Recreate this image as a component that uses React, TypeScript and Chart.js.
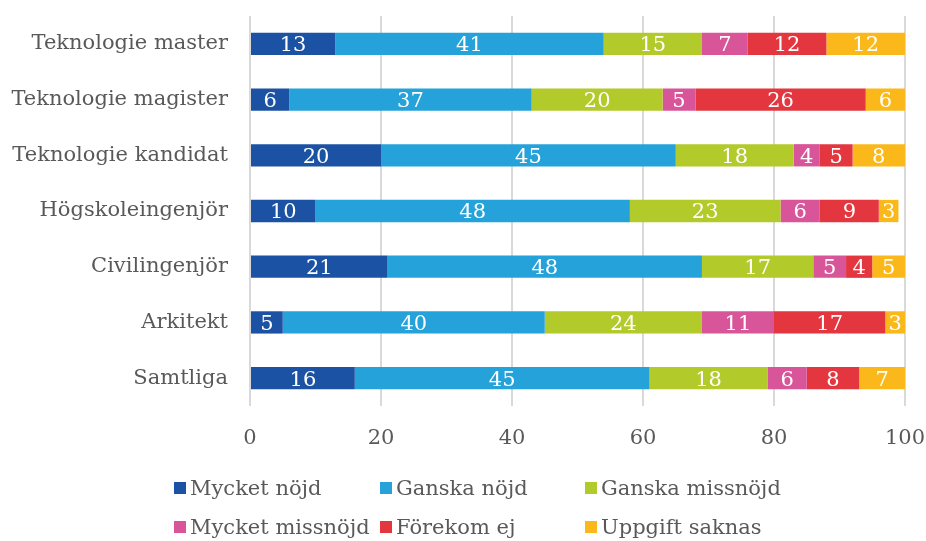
import React, { useEffect, useRef } from "react";
import { Chart, registerables } from "chart.js";

Chart.register(...registerables);

const categories = [
  "Teknologie master",
  "Teknologie magister",
  "Teknologie kandidat",
  "Högskoleingenjör",
  "Civilingenjör",
  "Arkitekt",
  "Samtliga",
];

const seriesNames = [
  "Mycket nöjd",
  "Ganska nöjd",
  "Ganska missnöjd",
  "Mycket missnöjd",
  "Förekom ej",
  "Uppgift saknas",
];

const mycketNojd = [13, 6, 20, 10, 21, 5, 16];
const ganskaNojd = [41, 37, 45, 48, 48, 40, 45];
const ganskaMissnojd = [15, 20, 18, 23, 17, 24, 18];
const mycketMissnojd = [7, 5, 4, 6, 5, 11, 6];
const forekomEj = [12, 26, 5, 9, 4, 17, 8];
const uppgiftSaknas = [12, 6, 8, 3, 5, 3, 7];

const seriesValues = [
  mycketNojd,
  ganskaNojd,
  ganskaMissnojd,
  mycketMissnojd,
  forekomEj,
  uppgiftSaknas,
];

const colors = ["#1B52A4", "#25A2DA", "#B2CA2A", "#D9559A", "#E3363F", "#FAB81A"];

const xTicks = [0, 20, 40, 60, 80, 100];

const FONT = "'DejaVu Serif', serif";
const TEXT_COLOR = "#595959";

const labelPlugin = {
  id: "segLabels",
  afterDatasetsDraw(chart: any) {
    const ctx = chart.ctx;
    ctx.save();
    ctx.fillStyle = "#FFFFFF";
    ctx.font = `21px ${FONT}`;
    ctx.textAlign = "center";
    ctx.textBaseline = "middle";
    chart.data.datasets.forEach((ds: any, di: number) => {
      const meta = chart.getDatasetMeta(di);
      meta.data.forEach((el: any, i: number) => {
        const v = ds.data[i];
        if (!v) return;
        const cx = (el.x + el.base) / 2;
        ctx.fillText(String(v), cx, el.y + 2);
      });
    });
    ctx.restore();
  },
};

export default function App() {
  const ref = useRef<HTMLCanvasElement | null>(null);

  useEffect(() => {
    if (!ref.current) return;
    const chart = new Chart(ref.current, {
      type: "bar",
      data: {
        labels: categories,
        datasets: seriesNames.map((name, k) => ({
          label: name,
          data: seriesValues[k],
          backgroundColor: colors[k],
          borderWidth: 0,
          barPercentage: 0.8,
          categoryPercentage: 0.5,
        })),
      },
      options: {
        indexAxis: "y",
        animation: false,
        responsive: false,
        maintainAspectRatio: false,
        layout: { padding: { left: 0, right: 21, top: 16, bottom: 0 } },
        plugins: {
          legend: { display: false },
          tooltip: { enabled: false },
        },
        scales: {
          x: {
            stacked: true,
            min: 0,
            max: 100,
            afterBuildTicks(scale: any) {
              scale.ticks = xTicks.map((v) => ({ value: v }));
            },
            afterFit(scale: any) {
              scale.height = 135;
              scale.paddingLeft = 0;
              scale.paddingRight = 0;
              scale.paddingTop = 0;
              scale.paddingBottom = 0;
            },
            ticks: {
              padding: 20,
              color: TEXT_COLOR,
              font: { family: FONT, size: 21 },
            },
            grid: {
              color: "#D9D9D9",
              lineWidth: 2,
              drawTicks: false,
            },
            border: { display: false },
          },
          y: {
            stacked: true,
            afterFit(scale: any) {
              scale.width = 250;
              scale.paddingLeft = 0;
              scale.paddingRight = 0;
              scale.paddingTop = 0;
              scale.paddingBottom = 0;
            },
            ticks: {
              padding: 22,
              color: TEXT_COLOR,
              font: { family: FONT, size: 21 },
            },
            grid: { display: false, drawTicks: false },
            border: { display: false },
          },
        },
      },
      plugins: [labelPlugin],
    });
    return () => chart.destroy();
  }, []);

  const colLeft = [174, 380, 585];
  const rowTop = [475, 514];

  return (
    <div
      style={{
        position: "absolute",
        left: 0,
        top: 0,
        width: 926,
        height: 541,
        background: "#FFFFFF",
        overflow: "hidden",
      }}
    >
      <canvas ref={ref} width={926} height={541} style={{ display: "block" }} />
      {seriesNames.map((name, k) => (
        <div
          key={name}
          style={{
            position: "absolute",
            left: colLeft[k % 3],
            top: rowTop[Math.floor(k / 3)],
            display: "flex",
            alignItems: "center",
            height: 26,
            fontFamily: FONT,
            fontSize: 21,
            color: TEXT_COLOR,
            whiteSpace: "nowrap",
          }}
        >
          <span
            style={{
              display: "inline-block",
              width: 12,
              height: 12,
              background: colors[k],
              marginRight: 4,
            }}
          />
          {name}
        </div>
      ))}
    </div>
  );
}
